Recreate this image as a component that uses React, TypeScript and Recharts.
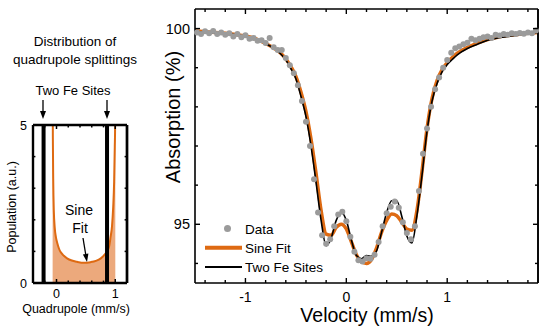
import { ComposedChart, Line, Scatter, Area, XAxis, YAxis, ReferenceLine } from "recharts";

// measured spectrum (velocity in mm/s, absorption in %)
const velocity = [
  -1.48, -1.44, -1.4, -1.36, -1.32, -1.28, -1.24, -1.2, -1.16, -1.12, -1.08, -1.04, -1.0, -0.96, -0.92, -0.88,
  -0.84, -0.8, -0.76, -0.72, -0.68, -0.64, -0.6, -0.56, -0.52, -0.48, -0.44, -0.4, -0.36, -0.32, -0.28, -0.24,
  -0.2, -0.16, -0.12, -0.08, -0.04, 0.0, 0.04, 0.08, 0.12, 0.16, 0.2, 0.24, 0.28, 0.32, 0.36, 0.4, 0.44, 0.48,
  0.52, 0.56, 0.6, 0.64, 0.68, 0.72, 0.76, 0.8, 0.84, 0.88, 0.92, 0.96, 1.0, 1.04, 1.08, 1.12, 1.16, 1.2, 1.24,
  1.28, 1.32, 1.36, 1.4, 1.44, 1.48, 1.52, 1.56, 1.6, 1.64, 1.68, 1.72, 1.76, 1.8, 1.84, 1.88,
];
const absorption = [
  99.9, 99.86, 99.93, 99.88, 99.94, 99.86, 99.9, 99.84, 99.88, 99.8, 99.86, 99.78, 99.83, 99.74, 99.76, 99.69,
  99.7, 99.63, 99.76, 99.52, 99.45, 99.45, 99.25, 99.06, 98.86, 98.55, 98.15, 97.62, 97.0, 96.15, 95.3, 94.72,
  94.5, 94.62, 94.95, 95.25, 95.32, 95.08, 94.68, 94.3, 94.08, 94.05, 94.13, 94.12, 94.22, 94.55, 94.95, 95.28,
  95.45, 95.58, 95.42, 95.05, 94.78, 94.62, 94.95, 95.85, 96.8, 97.45, 98.0, 98.45, 98.75, 99.0, 99.2, 99.38,
  99.5, 99.54, 99.6, 99.64, 99.74, 99.7, 99.74, 99.78, 99.8, 99.76, 99.84, 99.82, 99.86, 99.84, 99.88, 99.86,
  99.89, 99.87, 99.9, 99.88, 99.95,
];

// fitted curves
const fitVelocity = [
  -1.5, -1.4, -1.3, -1.2, -1.1, -1.0, -0.9, -0.8, -0.7, -0.65, -0.6, -0.55, -0.5, -0.45, -0.4, -0.35, -0.3,
  -0.25, -0.2, -0.15, -0.1, -0.05, 0.0, 0.05, 0.1, 0.15, 0.2, 0.25, 0.3, 0.35, 0.4, 0.45, 0.5, 0.55, 0.6, 0.65,
  0.7, 0.75, 0.8, 0.85, 0.9, 0.95, 1.0, 1.05, 1.1, 1.2, 1.3, 1.4, 1.5, 1.6, 1.7, 1.8, 1.9,
];
const sineFit = [
  99.94, 99.92, 99.9, 99.88, 99.85, 99.81, 99.74, 99.62, 99.47, 99.37, 99.23, 99.03, 98.78, 98.38, 97.88,
  97.18, 96.3, 95.35, 94.75, 94.72, 94.92, 95.0, 94.88, 94.55, 94.22, 94.04, 94.0, 94.1, 94.4, 94.8, 95.1,
  95.26, 95.22, 95.05, 94.88, 94.85, 95.35, 96.35, 97.45, 98.22, 98.68, 98.95, 99.13, 99.26, 99.37, 99.52,
  99.63, 99.72, 99.78, 99.82, 99.85, 99.88, 99.9,
];
const twoSites = [
  99.92, 99.91, 99.89, 99.87, 99.84, 99.8, 99.73, 99.62, 99.46, 99.35, 99.2, 98.98, 98.72, 98.27, 97.75,
  97.0, 96.07, 95.1, 94.45, 94.65, 95.1, 95.3, 95.1, 94.6, 94.2, 94.12, 94.2, 94.18, 94.32, 94.8, 95.3, 95.6,
  95.6, 95.2, 94.7, 94.52, 95.22, 96.25, 97.38, 98.15, 98.6, 98.9, 99.08, 99.21, 99.33, 99.49, 99.6, 99.7,
  99.76, 99.8, 99.84, 99.87, 99.9,
];

// distribution of quadrupole splittings (mm/s)
const quadSplit = [
  -0.066, -0.062, -0.056, -0.046, -0.03, -0.01, 0.015, 0.04, 0.07, 0.105, 0.18, 0.26, 0.35, 0.47, 0.58, 0.67,
  0.755, 0.83, 0.865, 0.895, 0.92, 0.945, 0.965, 0.981, 0.992, 0.998, 1.001,
];
const population = [
  6.5, 4.6, 3.3, 2.3, 1.75, 1.45, 1.25, 1.1, 0.98, 0.9, 0.78, 0.71, 0.67, 0.64, 0.66, 0.7, 0.78, 0.92, 1.02,
  1.15, 1.45, 1.8, 2.4, 3.2, 4.3, 5.0, 6.5,
];
const feSites = [-0.22, 0.86];

const vDomain = [-1.5, 1.9];
const vMajor = [-1, 0, 1];
const vTicks = [-1.4, -1.2, -1, -0.8, -0.6, -0.4, -0.2, 0, 0.2, 0.4, 0.6, 0.8, 1, 1.2, 1.4, 1.6, 1.8];
const aDomain = [93.5, 100.5];
const aMajor = [95, 100];
const aTicks = [94, 95, 96, 97, 98, 99, 100];
const qDomain = [-0.4, 1.2];
const qMajor = [0, 1];
const qTicks = [-0.2, 0, 0.2, 0.4, 0.6, 0.8, 1];
const pDomain = [0, 5];
const pMajor = [0, 5];
const pTicks = [0, 1, 2, 3, 4, 5];

const ORANGE = "#DE6A12";
const FILL = "#ECA97C";
const GRAY = "#9B9B9B";
const FONT = "'Liberation Sans', Arial, Helvetica, sans-serif";

const dataPoints = velocity.map((v, i) => ({ v, a: absorption[i] }));
const sineData = fitVelocity.map((v, i) => ({ v, a: sineFit[i] }));
const sitesData = fitVelocity.map((v, i) => ({ v, a: twoSites[i] }));
const distData = quadSplit.map((q, i) => ({ q, p: population[i] }));

const legendItems = [
  { name: "Data", kind: "dot", color: GRAY },
  { name: "Sine Fit", kind: "line", color: ORANGE, width: 4 },
  { name: "Two Fe Sites", kind: "line", color: "#000", width: 2 },
];

// inward tick marks (long for majors), label only where asked
function inwardTick(side: string, majors: number[], len: number, sw: number, label?: { fs: number; dx: number; dy: number }) {
  return (props: any) => {
    const { x, y, payload } = props;
    const v = payload.value;
    const major = majors.includes(v);
    const L = major ? len : len * 0.6;
    let x2 = x, y2 = y;
    if (side === "bottom") y2 = y - L;
    if (side === "top") y2 = y + L;
    if (side === "left") x2 = x + L;
    if (side === "right") x2 = x - L;
    return (
      <g>
        <line x1={x} y1={y} x2={x2} y2={y2} stroke="#000" strokeWidth={sw} />
        {label && major && (
          <text x={x + label.dx} y={y + label.dy} fontSize={label.fs} fill="#000"
            textAnchor={side === "left" ? "end" : "middle"}>
            {v}
          </text>
        )}
      </g>
    );
  };
}

const frame = { stroke: "#000", strokeWidth: 1.6 };
const frameL = { stroke: "#000", strokeWidth: 2.4 };

export default function App() {
  return (
    <div style={{ position: "fixed", left: 0, top: 0, width: 545, height: 328, background: "#fff", fontFamily: FONT }}>
      {/* distribution panel */}
      <div style={{ position: "absolute", left: 0, top: 0 }}>
        <ComposedChart width={160} height={328} margin={{ top: 124, right: 32, bottom: 0, left: 0 }}>
          <XAxis dataKey="q" type="number" domain={qDomain} ticks={qTicks} height={45} tickSize={0} tickMargin={0}
            interval={0} axisLine={frameL} tickLine={false}
            tick={inwardTick("bottom", qMajor, 4, 1.5, { fs: 12.5, dx: 0, dy: 15 })} />
          <XAxis xAxisId="top" dataKey="q" type="number" orientation="top" height={1} domain={qDomain}
            ticks={qTicks} tickSize={0} tickMargin={0} interval={0} axisLine={frameL} tickLine={false}
            tick={inwardTick("top", qMajor, 4, 1.5)} />
          <YAxis type="number" domain={pDomain} ticks={pTicks} width={33} allowDataOverflow tickSize={0} tickMargin={0}
            interval={0} axisLine={frameL} tickLine={false}
            tick={inwardTick("left", pMajor, 4, 1.5, { fs: 12.5, dx: -6, dy: 4.5 })} />
          <YAxis yAxisId="right" type="number" orientation="right" width={1} domain={pDomain} ticks={pTicks}
            allowDataOverflow tickSize={0} tickMargin={0} interval={0} axisLine={frameL} tickLine={false}
            tick={inwardTick("right", pMajor, 4, 1.5)} />
          <Area data={distData} dataKey="p" type="monotone" stroke="none" fill={FILL} fillOpacity={1}
            baseValue={0} isAnimationActive={false} />
          <Line data={distData} xAxisId="top" yAxisId="right" dataKey="p" type="monotone" stroke={ORANGE}
            strokeWidth={2} dot={false} isAnimationActive={false} />
          {feSites.map((s) => (
            <ReferenceLine key={s} x={s} stroke="#000" strokeWidth={4} />
          ))}
          <ReferenceLine x={qDomain[1]} stroke="#000" strokeWidth={2.4} />
        </ComposedChart>
      </div>

      {/* spectrum panel */}
      <div style={{ position: "absolute", left: 0, top: 0 }}>
        <ComposedChart width={545} height={328} margin={{ top: 8, right: 6, bottom: 0, left: 0 }}>
          <XAxis dataKey="v" type="number" domain={vDomain} ticks={vTicks} height={45} tickSize={0} tickMargin={0}
            interval={0} axisLine={frame} tickLine={false}
            tick={inwardTick("bottom", vMajor, 5, 1.4, { fs: 14, dx: 0, dy: 19 })} />
          <XAxis xAxisId="top" dataKey="v" type="number" orientation="top" height={1} domain={vDomain}
            ticks={vTicks} tickSize={0} tickMargin={0} interval={0} axisLine={frame} tickLine={false}
            tick={inwardTick("top", vMajor, 5, 1.4)} />
          <YAxis type="number" domain={aDomain} ticks={aTicks} width={195} allowDataOverflow tickSize={0}
            tickMargin={0} interval={0} axisLine={frame} tickLine={false}
            tick={inwardTick("left", aMajor, 5, 1.4, { fs: 14.5, dx: -5, dy: 5 })} />
          <YAxis yAxisId="right" type="number" orientation="right" width={1} domain={aDomain} ticks={aTicks}
            allowDataOverflow tickSize={0} tickMargin={0} interval={0} axisLine={frame} tickLine={false}
            tick={inwardTick("right", aMajor, 5, 1.4)} />
          <Scatter name="Data" data={dataPoints} dataKey="a" fill={GRAY} isAnimationActive={false}
            shape={(p: any) => <circle cx={p.cx} cy={p.cy} r={3} fill={GRAY} />} />
          <Line name="Sine Fit" data={sineData} xAxisId="top" yAxisId="right" dataKey="a" type="monotone"
            stroke={ORANGE} strokeWidth={3.5} dot={false} isAnimationActive={false} />
          <Line name="Two Fe Sites" data={sitesData} dataKey="a" type="monotone" stroke="#000" strokeWidth={1.6}
            dot={false} isAnimationActive={false} />
          <ReferenceLine x={vDomain[1]} stroke="#000" strokeWidth={1.6} />
        </ComposedChart>
      </div>

      {/* titles, annotations, legend */}
      <svg width={545} height={328} style={{ position: "absolute", left: 0, top: 0, pointerEvents: "none" }}
        fontFamily={FONT}>
        <text x={75} y={46} fontSize={13.5} textAnchor="middle">Distribution of</text>
        <text x={75} y={64} fontSize={13.5} textAnchor="middle">quadrupole splittings</text>
        <text x={73} y={95} fontSize={13} textAnchor="middle">Two Fe Sites</text>
        <line x1={43} y1={100} x2={43} y2={112} stroke="#000" strokeWidth={1.3} />
        <polygon points="40,111 46,111 43,119" fill="#000" />
        <line x1={107} y1={100} x2={107} y2={112} stroke="#000" strokeWidth={1.3} />
        <polygon points="104,111 110,111 107,119" fill="#000" />
        <text x={79} y={215} fontSize={14} textAnchor="middle">Sine</text>
        <text x={80} y={233} fontSize={14} textAnchor="middle">Fit</text>
        <line x1={83} y1={238} x2={85.8} y2={255} stroke="#000" strokeWidth={1.3} />
        <polygon points="82.9,254.6 88.4,253.6 87,262" fill="#000" />
        <text transform="translate(16,207) rotate(-90)" fontSize={12.5} textAnchor="middle">Population (a.u.)</text>
        <text x={76} y={313} fontSize={12.5} textAnchor="middle">Quadrupole (mm/s)</text>

        <text transform="translate(180,117) rotate(-90)" fontSize={20} textAnchor="middle">Absorption (%)</text>
        <text x={367} y={322} fontSize={19.5} textAnchor="middle">Velocity (mm/s)</text>

        {legendItems.map((it, i) => {
          const cy = 228.5 + i * 19.3;
          return (
            <g key={it.name}>
              {it.kind === "dot" ? (
                <circle cx={227.5} cy={cy} r={3.5} fill={it.color} />
              ) : (
                <line x1={205} x2={242} y1={cy} y2={cy} stroke={it.color} strokeWidth={it.width} />
              )}
              <text x={245} y={cy + 5} fontSize={13.5}>{it.name}</text>
            </g>
          );
        })}
      </svg>
    </div>
  );
}
